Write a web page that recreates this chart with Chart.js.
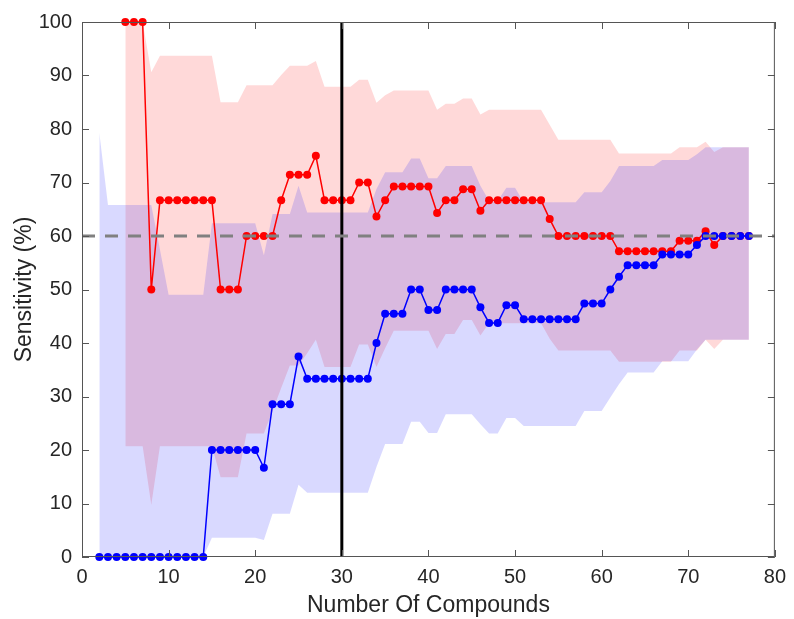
<!DOCTYPE html>
<html lang="en">
<head>
<meta charset="UTF-8">
<title>Sensitivity</title>
<script src="https://cdn.jsdelivr.net/npm/chart.js@4.4.1/dist/chart.umd.min.js"></script>
<style>
    html, body { margin: 0; padding: 0; background: #fff; }
    canvas { display: block; }
</style>
</head>
<body>
<canvas id="graficoSensibilidad" width="794" height="619"></canvas>
<script>
// Número de compuestos (eje x)
const compuestos = [2, 3, 4, 5, 6, 7, 8, 9, 10, 11, 12, 13, 14, 15, 16, 17, 18, 19, 20, 21, 22, 23, 24, 25, 26,
    27, 28, 29, 30, 31, 32, 33, 34, 35, 36, 37, 38, 39, 40, 41, 42, 43, 44, 45, 46, 47, 48, 49, 50, 51, 52,
    53, 54, 55, 56, 57, 58, 59, 60, 61, 62, 63, 64, 65, 66, 67, 68, 69, 70, 71, 72, 73, 74, 75, 76, 77];

// Serie roja: sensibilidad media y banda
const rojoMedia = [null, null, null, 100, 100, 100, 50, 66.67, 66.67, 66.67, 66.67, 66.67, 66.67, 66.67,
    50, 50, 50, 60, 60, 60, 60, 66.67, 71.43, 71.43, 71.43, 75, 66.67, 66.67, 66.67, 66.67, 70, 70, 63.64,
    66.67, 69.23, 69.23, 69.23, 69.23, 69.23, 64.29, 66.67, 66.67, 68.75, 68.75, 64.71, 66.67, 66.67, 66.67,
    66.67, 66.67, 66.67, 66.67, 63.16, 60, 60, 60, 60, 60, 60, 60, 57.14, 57.14, 57.14, 57.14, 57.14, 57.14,
    57.14, 59.09, 59.09, 59.09, 60.87, 58.33, 60, 60, 60, 60];
const rojoSup = [null, null, null, 100, 100, 100, 90.6, 93.7, 93.7, 93.7, 93.7, 93.7, 93.7, 93.7,
    85, 85, 85, 88.2, 88.2, 88.2, 88.2, 90.1, 91.8, 91.8, 91.8, 92.7, 87.9, 87.9, 87.9, 87.9, 89.2, 89.2, 84.9,
    86.3, 87.2, 87.2, 87.2, 87.2, 87.2, 83.6, 84.7, 84.7, 85.7, 85.7, 82.7, 83.6, 83.6, 83.6,
    83.6, 83.6, 83.6, 83.6, 80.8, 78, 78, 78, 78, 78, 78, 78, 75.4, 75.4, 75.4, 75.4, 75.4, 75.4,
    75.4, 76.6, 76.6, 76.6, 77.6, 75.7, 76.6, 76.6, 76.6, 76.6];
const rojoInf = [null, null, null, 20.7, 20.7, 20.7, 9.7, 20.7, 20.7, 20.7, 20.7, 20.7, 20.7, 20.7,
    14.9, 14.9, 14.9, 23.1, 23.1, 23.1, 27.3, 31.6, 35.8, 35.8, 38.1, 40.6, 35.5, 35.5, 35.5, 35.5, 39.7, 39.7, 35.5,
    39, 42.3, 42.3, 42.3, 42.3, 42.3, 38.9, 41.7, 41.7, 44.3, 44.3, 41.4, 43.7, 43.7, 43.7,
    43.7, 43.7, 43.7, 43.7, 40.8, 38.6, 38.6, 38.6, 38.6, 38.6, 38.6, 38.6, 36.5, 36.5, 36.5, 36.5, 36.5, 36.5,
    36.5, 38.6, 38.6, 38.6, 40.6, 38.9, 40.6, 40.6, 40.6, 40.6];

// Serie azul: sensibilidad media y banda
const azulMedia = [0, 0, 0, 0, 0, 0, 0, 0, 0, 0, 0, 0, 0, 20, 20, 20, 20, 20, 20, 16.67, 28.57, 28.57, 28.57,
    37.5, 33.33, 33.33, 33.33, 33.33, 33.33, 33.33, 33.33, 33.33, 40, 45.45, 45.45, 45.45, 50, 50, 46.15, 46.15,
    50, 50, 50, 50, 46.67, 43.75, 43.75, 47.06, 47.06, 44.44, 44.44, 44.44, 44.44, 44.44, 44.44, 44.44,
    47.37, 47.37, 47.37, 50, 52.38, 54.55, 54.55, 54.55, 54.55, 56.52, 56.52, 56.52, 56.52, 58.33,
    60, 60, 60, 60, 60, 60];
const azulSup = [79.3, 65.8, 65.8, 65.8, 65.8, 65.8, 65.8, 57.5, 49, 49, 49, 49, 49, 62.4, 62.4, 62.4, 62.4,
    62.4, 62.4, 56.4, 64.1, 64.1, 64.1, 69.4, 64.4, 64.4, 64.4, 64.4, 64.4, 64.4, 64.4, 64.4, 68.8, 71.9, 71.9,
    71.9, 74.5, 74.5, 70.8, 70.8, 73.1, 73.1, 73.1, 73.1, 69.4, 66.6, 66.6, 69, 69, 66.3, 66.3, 66.3, 66.3, 66.3,
    66.3, 66.3, 68.2, 68.2, 68.2, 70.3, 73.1, 73.1, 73.1, 73.1, 73.1, 74.2, 74.2, 74.2, 74.2, 75.3,
    76.6, 76.6, 76.6, 76.6, 76.6, 76.6];
const azulInf = [0, 0, 0, 0, 0, 0, 0, 0, 0, 0, 0, 0, 0, 3.6, 3.6, 3.6, 3.6, 3.6, 3.6, 3.2, 8.1, 8.1, 8.1,
    13.5, 12, 12, 12, 12, 12, 12, 12, 12, 16.8, 21.1, 21.1, 21.1, 25.3, 25.3, 23.2, 23.2, 26.7, 26.7, 26.7, 26.7,
    24.8, 23.1, 23.1, 26, 26, 24.5, 24.5, 24.5, 24.5, 24.5, 24.5, 24.5, 27.3, 27.3, 27.3, 29.8, 32.3,
    34.5, 34.5, 34.5, 34.5, 36.6, 36.6, 36.6, 36.6, 38.8, 40.6, 40.6, 40.6, 40.6, 40.6, 40.6];

// Referencias: línea de corte en 30 compuestos y nivel del 60 %
const corteCompuestos = 30;
const nivelReferencia = 60;
const rangoX = [0, 80];
const rangoY = [0, 100];

const FUENTE = '"Liberation Sans", Arial, Helvetica, sans-serif';
const COLOR_TEXTO = '#262626';

document.addEventListener("DOMContentLoaded", function () {
    generarGraficoSensibilidad();
});

function puntos(valores) {
    return compuestos.map((c, i) => ({x: c, y: valores[i]}));
}

// Caja de ejes con marcas hacia dentro en los cuatro lados
const marcoEjes = {
    id: 'marcoEjes',
    afterDatasetsDraw(chart) {
        const {ctx, chartArea: a, scales: {x, y}} = chart;
        const largo = 7;
        ctx.save();
        ctx.strokeStyle = '#555555';
        ctx.lineWidth = 1;
        ctx.strokeRect(a.left + 0.5, a.top + 0.5, a.right - a.left - 1, a.bottom - a.top - 1);
        ctx.beginPath();
        x.ticks.forEach(t => {
            const px = Math.round(x.getPixelForValue(t.value)) + 0.5;
            ctx.moveTo(px, a.bottom); ctx.lineTo(px, a.bottom - largo);
            ctx.moveTo(px, a.top); ctx.lineTo(px, a.top + largo);
        });
        y.ticks.forEach(t => {
            const py = Math.round(y.getPixelForValue(t.value)) + 0.5;
            ctx.moveTo(a.left, py); ctx.lineTo(a.left + largo, py);
            ctx.moveTo(a.right, py); ctx.lineTo(a.right - largo, py);
        });
        ctx.stroke();
        ctx.restore();
    }
};

function generarGraficoSensibilidad() {
    new Chart(document.getElementById("graficoSensibilidad"), {
        type: "line",
        data: {
            datasets: [
                {
                    // línea discontinua del 60 %
                    data: [{x: rangoX[0], y: nivelReferencia}, {x: rangoX[1], y: nivelReferencia}],
                    borderColor: "#808080",
                    borderWidth: 3,
                    borderDash: [13, 10],
                    pointRadius: 0,
                    order: 0
                },
                {
                    // corte en 30 compuestos
                    data: [{x: corteCompuestos, y: rangoY[0]}, {x: corteCompuestos, y: rangoY[1]}],
                    borderColor: "#000000",
                    borderWidth: 3,
                    pointRadius: 0,
                    order: 1
                },
                {
                    data: puntos(azulMedia),
                    borderColor: "#0000ff",
                    backgroundColor: "#0000ff",
                    borderWidth: 1.5,
                    pointRadius: 4,
                    pointBorderWidth: 0,
                    clip: false,
                    order: 2
                },
                {
                    data: puntos(rojoMedia),
                    borderColor: "#ff0000",
                    backgroundColor: "#ff0000",
                    borderWidth: 1.5,
                    pointRadius: 4,
                    pointBorderWidth: 0,
                    clip: false,
                    order: 3
                },
                {
                    data: puntos(azulSup),
                    borderColor: "transparent",
                    borderWidth: 0,
                    pointRadius: 0,
                    backgroundColor: "rgba(0, 0, 255, 0.15)",
                    fill: "+1",
                    order: 4
                },
                {
                    data: puntos(azulInf),
                    borderColor: "transparent",
                    borderWidth: 0,
                    pointRadius: 0,
                    order: 5
                },
                {
                    data: puntos(rojoSup),
                    borderColor: "transparent",
                    borderWidth: 0,
                    pointRadius: 0,
                    backgroundColor: "rgba(255, 0, 0, 0.15)",
                    fill: "+1",
                    order: 6
                },
                {
                    data: puntos(rojoInf),
                    borderColor: "transparent",
                    borderWidth: 0,
                    pointRadius: 0,
                    order: 7
                }
            ]
        },
        options: {
            responsive: false,
            animation: false,
            elements: {line: {tension: 0}},
            layout: {padding: {top: 18, right: 13, left: 0, bottom: 0}},
            plugins: {
                legend: {display: false},
                tooltip: {enabled: false}
            },
            scales: {
                x: {
                    type: "linear",
                    min: rangoX[0],
                    max: rangoX[1],
                    afterFit: s => { s.height = 62; },
                    grid: {display: false, drawTicks: false},
                    border: {display: false},
                    ticks: {
                        stepSize: 10,
                        padding: 8,
                        color: COLOR_TEXTO,
                        font: {family: FUENTE, size: 20}
                    },
                    title: {
                        display: true,
                        text: "Number Of Compounds",
                        color: COLOR_TEXTO,
                        padding: {top: 0, bottom: 0},
                        font: {family: FUENTE, size: 23}
                    }
                },
                y: {
                    min: rangoY[0],
                    max: rangoY[1],
                    afterFit: s => { s.width = 82; },
                    grid: {display: false, drawTicks: false},
                    border: {display: false},
                    ticks: {
                        stepSize: 10,
                        padding: 10,
                        color: COLOR_TEXTO,
                        font: {family: FUENTE, size: 20}
                    },
                    title: {
                        display: true,
                        text: "Sensitivity (%)",
                        color: COLOR_TEXTO,
                        padding: {top: 11, bottom: 0},
                        font: {family: FUENTE, size: 23}
                    }
                }
            }
        },
        plugins: [marcoEjes]
    });
}
</script>
</body>
</html>
